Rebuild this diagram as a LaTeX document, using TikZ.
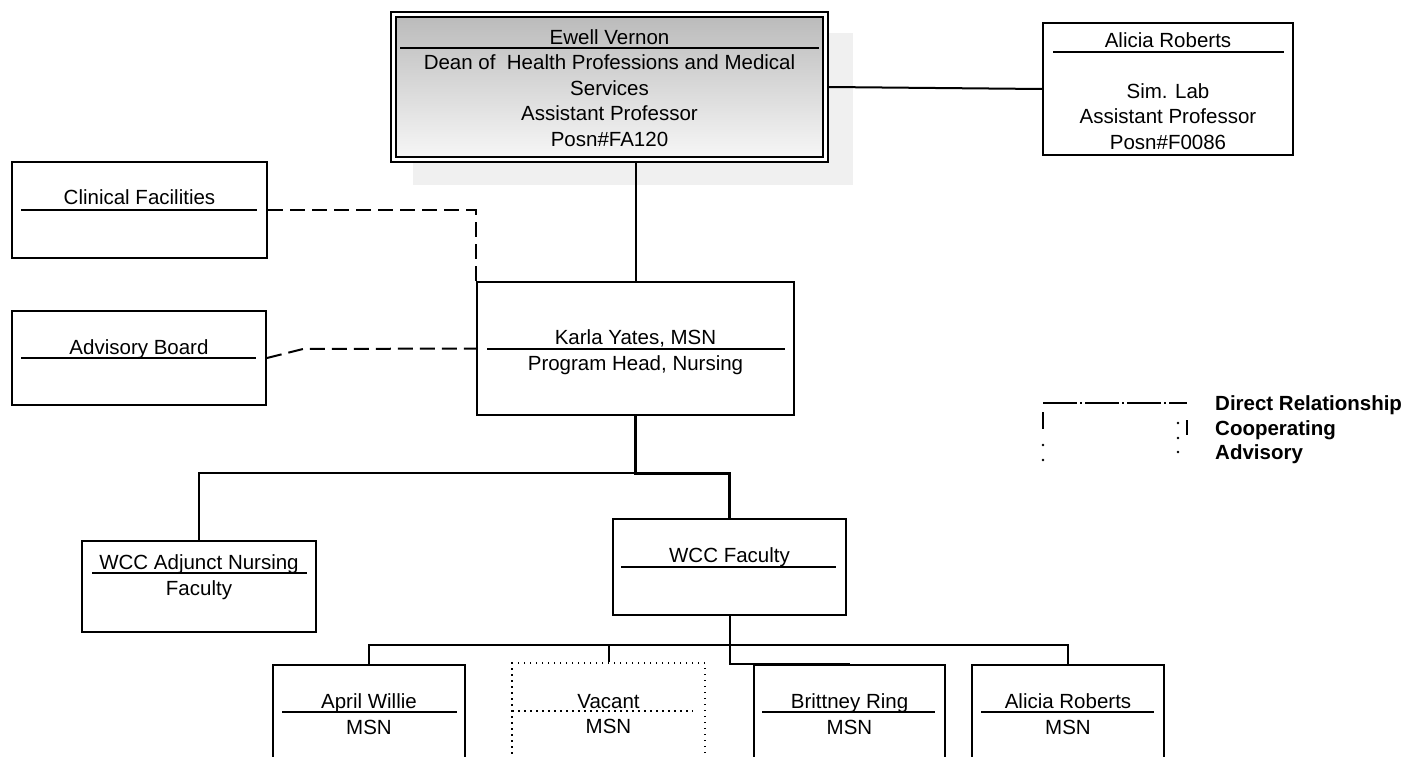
\documentclass[tikz,border=0pt]{standalone}
\usepackage{fontspec}
\setmainfont{Liberation Sans}
\tikzset{unit/.style={draw,line width=2pt,inner sep=0pt},
         vacant/.style={draw,line width=1.5pt,dash pattern=on 1.5pt off 4.5pt,inner sep=0pt},
         txt/.style={inner sep=0pt,align=center,font=\fontsize{20.5}{25.5}\selectfont},
         legendtxt/.style={inner sep=0pt,anchor=base west,font=\fontsize{20.5}{25.5}\selectfont\bfseries},
         rule/.style={line width=2pt},
         link/.style={line width=2pt},
         mainlink/.style={line width=3pt},
         coop/.style={line width=2pt,dash pattern=on 15pt off 7pt}}

\begin{document}
\begin{tikzpicture}[x=1pt,y=-1pt]
                \useasboundingbox (0,0) rectangle (1414,757);
                \clip (0,0) rectangle (1414,757);
                % dean
                \fill[black!6] (413,33) rectangle (853,185);
                \node[unit,double,double distance=3.4pt,line width=1.4pt,outer sep=3pt,
                      top color=black!27,bottom color=black!3,
                      minimum width=432pt,minimum height=145pt] (dean) at (609.5,87) {};
                \node[txt] (deant) at (609.5,88) {Ewell Vernon\\Dean of~ Health Professions and Medical\\Services\\Assistant Professor\\Posn\#FA120};
                \draw[rule] (400,48) -- (819,48);
                % sim lab
                \node[unit,minimum width=250pt,minimum height=132pt] (sim) at (1168,89) {};
                \node[txt] (simt) at (1168,91) {Alicia Roberts\\[25.5pt]Sim. Lab\\Assistant Professor\\Posn\#F0086};
                \draw[rule] (1053,52) -- (1284,52);
                % program head
                \node[unit,minimum width=317pt,minimum height=133pt] (karla) at (635.5,348.5) {};
                \node[txt] (karlat) at (635.5,352) {Karla Yates, MSN\\Program Head, Nursing};
                \draw[rule] (487,349) -- (785,349);
                % left side
                \node[unit,minimum width=255pt,minimum height=96pt] (clin) at (139.5,210) {};
                \node[txt,anchor=base] (clint) at (139.5,204.3) {Clinical Facilities};
                \draw[rule] (21,210) -- (257,210);
                \node[unit,minimum width=254pt,minimum height=94pt] (adv) at (139,358) {};
                \node[txt,anchor=base] (advt) at (139,354.3) {Advisory Board};
                \draw[rule] (21,358) -- (256,358);
                % faculty
                \node[unit,minimum width=234pt,minimum height=91pt] (adj) at (199,586.5) {};
                \node[txt] (adjt) at (199,577) {WCC Adjunct Nursing\\Faculty};
                \draw[rule] (92,573) -- (307,573);
                \node[unit,minimum width=233pt,minimum height=96pt] (fac) at (729.5,567) {};
                \node[txt,anchor=base] (fact) at (729.5,562.3) {WCC Faculty};
                \draw[rule] (621,567) -- (836,567);
                % staff row
                \node[unit,minimum width=192pt,minimum height=135pt] (april) at (369,732.5) {};
                \node[txt] (aprilt) at (369,714) {April Willie\\MSN};
                \draw[rule] (282,712) -- (457,712);
                \node[vacant,minimum width=193pt,minimum height=137pt] (vac) at (608.5,731.5) {};
                \node[txt] (vact) at (608.5,714) {Vacant\\MSN};
                \draw[rule,line width=1.5pt,dash pattern=on 1.5pt off 4.5pt] (512,711) -- (693,711);
                \node[unit,minimum width=191pt,minimum height=135pt] (brit) at (849.5,732.5) {};
                \node[txt] (britt) at (849.5,714) {Brittney Ring\\MSN};
                \draw[rule] (762,712) -- (935,712);
                \node[unit,minimum width=192pt,minimum height=135pt] (ali) at (1068,732.5) {};
                \node[txt] (alit) at (1068,714) {Alicia Roberts\\MSN};
                \draw[rule] (981,712) -- (1154,712);
                % connectors
                \draw[link] (dean.east) -- (sim.west);
                \draw[link] (karla.north) -- (karla.north |- dean.south);
                \draw[coop] (clin.east) -| (karla.north west);
                \draw[coop] (adv.east) -- ++(36,-9) -- (karla.west);
                \coordinate (split) at (karla.south |- 0,473);
                \draw[mainlink] (karla.south) -- (split) -| (fac.north);
                \draw[link] (split) -| (adj.north);
                \coordinate (bus) at (fac.south |- 0,645);
                \draw[link] (fac.south) -- (bus);
                \draw[link] (april.north) |- (ali.north |- bus) -- (ali.north);
                \draw[link] (vac.north) -- (vac.north |- bus);
                \draw[link] (bus) -- (bus |- brit.north) -- (brit.north);
                % legend
                \draw[line width=2.4pt,dash pattern=on 34pt off 3pt on 2pt off 3pt] (1043,403) -- (1187,403);
                \draw[line width=2.4pt] (1043,412) -- (1043,429);
                \draw[line width=2.4pt] (1187,420) -- (1187,435);
                \foreach \x/\y in {1043/445,1043/460,1178/423,1178/438,1178/452}
                    \fill (\x,\y) circle (1.3);
                \node[legendtxt] (lgdirect) at (1215,410.3) {Direct Relationship};
                \node[legendtxt] (lgcoop) at (1215,435.3) {Cooperating};
                \node[legendtxt] (lgadv) at (1215,459.3) {Advisory};
            \end{tikzpicture}
\end{document}
